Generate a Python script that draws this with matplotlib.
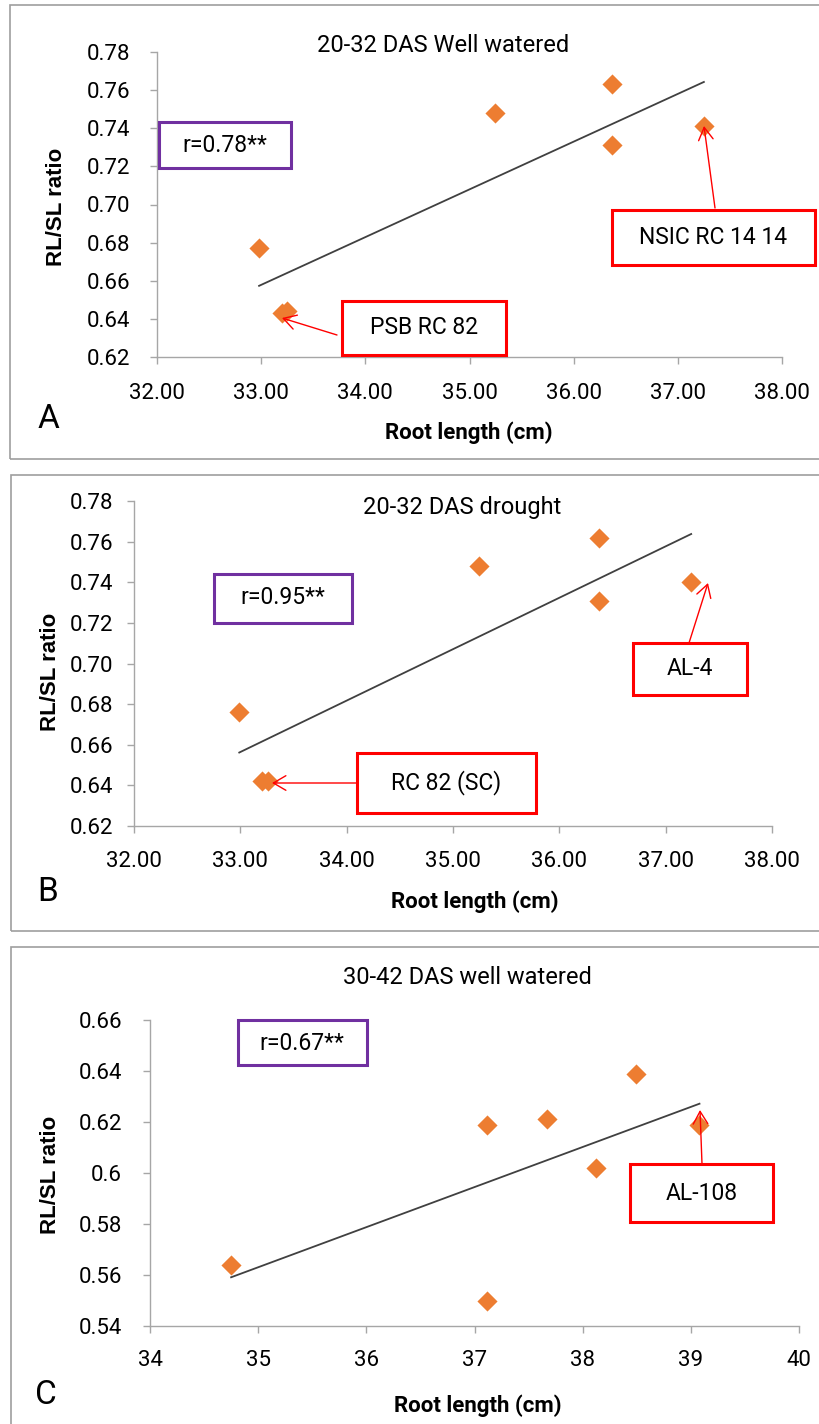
"""RL/SL ratio vs root length scatter panels (A, B, C)."""
import numpy as np
import matplotlib
matplotlib.use("Agg")
import matplotlib.pyplot as plt
from matplotlib.patches import Rectangle, FancyArrowPatch

# Panel A: 20-32 DAS well watered
a_root = [32.98, 33.20, 33.25, 35.24, 36.37, 36.37, 37.25]
a_ratio = [0.677, 0.643, 0.644, 0.748, 0.763, 0.731, 0.741]

# Panel B: 20-32 DAS drought
b_root = [32.99, 33.20, 33.26, 35.24, 36.37, 36.37, 37.24]
b_ratio = [0.676, 0.642, 0.642, 0.748, 0.762, 0.731, 0.740]

# Panel C: 30-42 DAS well watered
c_root = [34.75, 37.12, 37.12, 37.67, 38.12, 38.49, 39.08]
c_ratio = [0.564, 0.619, 0.550, 0.621, 0.602, 0.639, 0.619]

titles = ["20-32 DAS Well watered", "20-32 DAS drought", "30-42 DAS well watered"]
r_labels = ["r=0.78**", "r=0.95**", "r=0.67**"]
letters = ["A", "B", "C"]
genotype_labels = [["NSIC RC 14 14", "PSB RC 82"], ["AL-4", "RC 82 (SC)"], ["AL-108"]]

ab_xticks = [32, 33, 34, 35, 36, 37, 38]
ab_xticklabels = ["32.00", "33.00", "34.00", "35.00", "36.00", "37.00", "38.00"]
ab_yticks = [0.62, 0.64, 0.66, 0.68, 0.70, 0.72, 0.74, 0.76, 0.78]
ab_yticklabels = ["0.62", "0.64", "0.66", "0.68", "0.70", "0.72", "0.74", "0.76", "0.78"]
c_xticks = [34, 35, 36, 37, 38, 39, 40]
c_xticklabels = ["34", "35", "36", "37", "38", "39", "40"]
c_yticks = [0.54, 0.56, 0.58, 0.60, 0.62, 0.64, 0.66]
c_yticklabels = ["0.54", "0.56", "0.58", "0.6", "0.62", "0.64", "0.66"]

W, H = 819, 1424
ORANGE = "#ED7D31"
RED = "#FF0000"
PURPLE = "#7030A0"
GRAY = "#A6A6A6"

plt.rcParams["font.family"] = ["Roboto", "DejaVu Sans"]


def fig_xy(x, y):
    """Convert top-left pixel coords to figure fraction."""
    return x / W, 1 - y / H


def add_box(fig, x0, y0, x1, y1, color, lw):
    """Draw a rectangle outline given in top-left pixel coords."""
    fx, fy = fig_xy(x0, y1)
    fig.add_artist(Rectangle((fx, fy), (x1 - x0) / W, (y1 - y0) / H,
                             transform=fig.transFigure, fill=False,
                             edgecolor=color, linewidth=lw, clip_on=False))


def add_label_box(fig, text, x0, y0, x1, y1, color):
    add_box(fig, x0, y0, x1, y1, color, 2.2)
    fx, fy = fig_xy((x0 + x1) / 2, (y0 + y1) / 2)
    fig.text(fx, fy, text, ha="center", va="center", fontsize=16.5)


def add_arrow(fig, start, end):
    fig.add_artist(FancyArrowPatch(
        fig_xy(*start), fig_xy(*end), transform=fig.transFigure,
        arrowstyle="->,head_length=0.6,head_width=0.35", mutation_scale=15,
        color=RED, linewidth=1.0, shrinkA=0, shrinkB=0))


def draw_panel(fig, box, x, y, xticks, xticklabels, yticks, yticklabels,
               pads, title, title_pos, letter, letter_pos, xlabel_pos, ylabel_pos):
    left, top, right, bottom = box
    ax = fig.add_axes([left / W, 1 - bottom / H, (right - left) / W, (bottom - top) / H])
    ax.scatter(x, y, marker="D", s=105, color=ORANGE, zorder=3, linewidths=0)
    slope, intercept = np.polyfit(x, y, 1)
    xs = np.array([min(x), max(x)])
    ax.plot(xs, slope * xs + intercept, color="#404040", linewidth=1.3, zorder=2)

    ax.set_xlim(xticks[0], xticks[-1])
    ax.set_ylim(yticks[0], yticks[-1])
    ax.set_xticks(xticks)
    ax.set_xticklabels(xticklabels)
    ax.set_yticks(yticks)
    ax.set_yticklabels(yticklabels)
    for side in ["top", "right"]:
        ax.spines[side].set_visible(False)
    for side in ["left", "bottom"]:
        ax.spines[side].set_color(GRAY)
        ax.spines[side].set_linewidth(1.0)
    ax.tick_params(axis="both", direction="out", length=5, width=1.0,
                   color=GRAY, labelsize=16, labelcolor="black")
    ax.tick_params(axis="x", pad=pads[0])
    ax.tick_params(axis="y", pad=pads[1])
    ax.patch.set_alpha(0)

    fx, fy = fig_xy(*title_pos)
    fig.text(fx, fy, title, ha="center", va="center", fontsize=17)
    fx, fy = fig_xy(*letter_pos)
    fig.text(fx, fy, letter, ha="center", va="center", fontsize=24)
    fx, fy = fig_xy(*xlabel_pos)
    fig.text(fx, fy, "Root length (cm)", ha="center", va="center",
             fontsize=16, fontweight="bold")
    fx, fy = fig_xy(*ylabel_pos)
    fig.text(fx, fy, "RL/SL ratio", ha="center", va="center", rotation=90,
             fontsize=16, fontweight="bold", family="Liberation Sans")
    return ax


def main():
    fig = plt.figure(figsize=(W / 100, H / 100), dpi=100)
    fig.patch.set_facecolor("white")

    # outer panel frames
    add_box(fig, 10, 5, 835, 459, "#9E9E9E", 1.2)
    add_box(fig, 11, 475, 835, 931, "#9E9E9E", 1.2)
    add_box(fig, 11, 947, 835, 1440, "#9E9E9E", 1.2)

    # Panel A
    draw_panel(fig, (157, 52, 782, 357), a_root, a_ratio,
               ab_xticks, ab_xticklabels, ab_yticks, ab_yticklabels, (14, 14),
               titles[0], (443, 46), letters[0], (48, 419), (469, 433), (56, 207))
    add_box(fig, 159, 122, 291, 168, PURPLE, 2.2)
    fig.text(*fig_xy(225, 145), r_labels[0], ha="center", va="center", fontsize=16.5)
    add_label_box(fig, genotype_labels[0][0], 612, 210, 815, 265, RED)
    add_label_box(fig, genotype_labels[0][1], 342, 301, 506, 355, RED)
    add_arrow(fig, (715, 208), (704, 126))
    add_arrow(fig, (337, 335), (282, 318))

    # Panel B
    draw_panel(fig, (134, 501, 772, 826), b_root, b_ratio,
               ab_xticks, ab_xticklabels, ab_yticks, ab_yticklabels, (13, 10),
               titles[1], (462, 508), letters[1], (48, 892), (475, 902), (51, 672))
    add_box(fig, 214, 574, 352, 623, PURPLE, 2.2)
    fig.text(*fig_xy(283, 598), r_labels[1], ha="center", va="center", fontsize=16.5)
    add_label_box(fig, genotype_labels[1][0], 633, 643, 747, 695, RED)
    add_label_box(fig, genotype_labels[1][1], 357, 753, 536, 813, RED)
    add_arrow(fig, (689, 643), (708, 583))
    add_arrow(fig, (357, 783), (272, 783))

    # Panel C
    draw_panel(fig, (150, 1020, 799, 1326), c_root, c_ratio,
               c_xticks, c_xticklabels, c_yticks, c_yticklabels, (12, 15),
               titles[2], (467, 977), letters[2], (46, 1395), (478, 1406), (51, 1175))
    add_box(fig, 238, 1020, 367, 1065, PURPLE, 2.2)
    fig.text(*fig_xy(302, 1043), r_labels[2], ha="center", va="center", fontsize=16.5)
    add_label_box(fig, genotype_labels[2][0], 630, 1164, 773, 1222, RED)
    add_arrow(fig, (702, 1164), (700, 1110))

    fig.savefig("out.png", dpi=100)
    plt.close(fig)


if __name__ == "__main__":
    main()
